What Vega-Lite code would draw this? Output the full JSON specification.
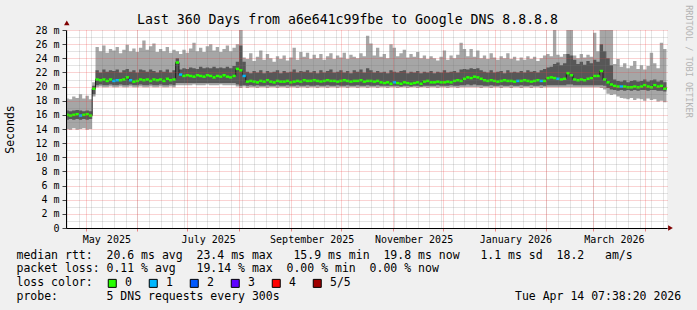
{
"$schema": "https://vega.github.io/schema/vega-lite/v6.json",
"width": 601,
"height": 198,
"autosize": {"type": "none"},
"padding": {"left": 66, "top": 30, "right": 30, "bottom": 82},
"background": "#f0f0f0",
"view": {"fill": "#ffffff", "stroke": null},
"config": {
  "font": "DejaVu Sans Mono",
  "axis": {"labelFont": "DejaVu Sans Mono", "titleFont": "DejaVu Sans Mono", "labelColor": "#000000", "titleColor": "#000000", "titleFontWeight": "normal"}
},
"title": {"text": "Last 360 Days from a6e641c99fbe to Google DNS 8.8.8.8", "font": "DejaVu Sans Mono", "fontSize": 13.2, "fontWeight": "normal", "color": "#000000", "anchor": "middle", "frame": "group", "dx": -19, "dy": 25, "offset": 3},
"data": {"values": [
{"t":"2025-04-19","lo":14.0,"hi":18.3,"dl":15.3,"dh":16.6,"m":16.0,"c":0},
{"t":"2025-04-21","lo":13.9,"hi":18.2,"dl":15.4,"dh":16.5,"m":15.9,"c":0},
{"t":"2025-04-23","lo":14.1,"hi":18.6,"dl":15.3,"dh":16.6,"m":16.0,"c":0},
{"t":"2025-04-25","lo":13.9,"hi":18.4,"dl":15.4,"dh":16.7,"m":16.1,"c":0},
{"t":"2025-04-27","lo":14.0,"hi":18.9,"dl":15.3,"dh":16.6,"m":15.9,"c":1},
{"t":"2025-04-29","lo":14.1,"hi":18.3,"dl":15.4,"dh":16.5,"m":16.0,"c":0},
{"t":"2025-05-01","lo":13.9,"hi":18.7,"dl":15.3,"dh":16.6,"m":16.1,"c":0},
{"t":"2025-05-03","lo":14.0,"hi":18.2,"dl":15.4,"dh":16.5,"m":15.9,"c":0},
{"t":"2025-05-05","lo":18.6,"hi":20.6,"dl":18.9,"dh":20.1,"m":19.7,"c":0},
{"t":"2025-05-07","lo":19.9,"hi":25.6,"dl":20.2,"dh":22.3,"m":21.0,"c":0},
{"t":"2025-05-09","lo":20.0,"hi":25.0,"dl":20.3,"dh":22.0,"m":20.9,"c":0},
{"t":"2025-05-11","lo":19.9,"hi":25.8,"dl":20.2,"dh":22.4,"m":21.0,"c":0},
{"t":"2025-05-13","lo":19.9,"hi":24.8,"dl":20.2,"dh":22.1,"m":20.8,"c":0},
{"t":"2025-05-15","lo":20.0,"hi":25.3,"dl":20.3,"dh":22.3,"m":21.0,"c":0},
{"t":"2025-05-17","lo":19.9,"hi":25.1,"dl":20.2,"dh":22.2,"m":20.8,"c":1},
{"t":"2025-05-19","lo":19.9,"hi":25.6,"dl":20.2,"dh":22.4,"m":20.9,"c":1},
{"t":"2025-05-21","lo":20.0,"hi":24.7,"dl":20.3,"dh":22.0,"m":20.9,"c":0},
{"t":"2025-05-23","lo":19.9,"hi":25.2,"dl":20.2,"dh":22.3,"m":21.0,"c":0},
{"t":"2025-05-25","lo":19.9,"hi":25.9,"dl":20.2,"dh":22.5,"m":21.3,"c":0},
{"t":"2025-05-27","lo":20.0,"hi":25.0,"dl":20.3,"dh":22.1,"m":20.9,"c":1},
{"t":"2025-05-29","lo":19.9,"hi":25.4,"dl":20.2,"dh":22.3,"m":20.7,"c":0},
{"t":"2025-05-31","lo":19.9,"hi":24.9,"dl":20.2,"dh":22.0,"m":20.8,"c":0},
{"t":"2025-06-02","lo":20.0,"hi":25.5,"dl":20.3,"dh":22.4,"m":21.0,"c":0},
{"t":"2025-06-04","lo":19.9,"hi":26.5,"dl":20.2,"dh":22.3,"m":20.9,"c":0},
{"t":"2025-06-06","lo":19.9,"hi":25.2,"dl":20.2,"dh":22.1,"m":21.0,"c":0},
{"t":"2025-06-08","lo":20.0,"hi":25.7,"dl":20.3,"dh":22.4,"m":20.8,"c":0},
{"t":"2025-06-10","lo":19.9,"hi":26.1,"dl":20.2,"dh":22.2,"m":21.0,"c":0},
{"t":"2025-06-12","lo":19.9,"hi":24.9,"dl":20.2,"dh":22.0,"m":20.9,"c":0},
{"t":"2025-06-14","lo":20.0,"hi":25.3,"dl":20.3,"dh":22.3,"m":21.0,"c":0},
{"t":"2025-06-16","lo":19.9,"hi":25.0,"dl":20.2,"dh":22.1,"m":20.8,"c":0},
{"t":"2025-06-18","lo":19.9,"hi":25.6,"dl":20.2,"dh":22.4,"m":21.1,"c":0},
{"t":"2025-06-20","lo":20.0,"hi":24.8,"dl":20.3,"dh":22.0,"m":20.9,"c":0},
{"t":"2025-06-22","lo":19.9,"hi":25.2,"dl":20.2,"dh":22.3,"m":21.0,"c":0},
{"t":"2025-06-24","lo":20.2,"hi":25.0,"dl":20.5,"dh":24.0,"m":23.4,"c":0},
{"t":"2025-06-26","lo":20.2,"hi":24.6,"dl":20.5,"dh":22.4,"m":21.7,"c":1},
{"t":"2025-06-28","lo":20.2,"hi":25.2,"dl":20.5,"dh":22.6,"m":21.5,"c":0},
{"t":"2025-06-30","lo":20.2,"hi":24.8,"dl":20.5,"dh":22.5,"m":21.6,"c":0},
{"t":"2025-07-02","lo":20.2,"hi":25.4,"dl":20.5,"dh":22.7,"m":21.5,"c":0},
{"t":"2025-07-04","lo":20.3,"hi":26.2,"dl":20.5,"dh":22.6,"m":21.4,"c":0},
{"t":"2025-07-06","lo":20.2,"hi":25.0,"dl":20.5,"dh":22.5,"m":21.6,"c":0},
{"t":"2025-07-08","lo":20.2,"hi":25.5,"dl":20.5,"dh":22.8,"m":21.5,"c":0},
{"t":"2025-07-10","lo":20.2,"hi":24.9,"dl":20.5,"dh":22.6,"m":21.4,"c":0},
{"t":"2025-07-12","lo":20.3,"hi":25.7,"dl":20.5,"dh":22.7,"m":21.6,"c":0},
{"t":"2025-07-14","lo":20.2,"hi":26.0,"dl":20.5,"dh":22.6,"m":21.5,"c":0},
{"t":"2025-07-16","lo":20.2,"hi":25.1,"dl":20.5,"dh":22.8,"m":21.3,"c":0},
{"t":"2025-07-18","lo":20.2,"hi":25.6,"dl":20.5,"dh":22.6,"m":21.5,"c":0},
{"t":"2025-07-20","lo":20.3,"hi":24.9,"dl":20.5,"dh":22.7,"m":21.4,"c":0},
{"t":"2025-07-22","lo":20.2,"hi":25.3,"dl":20.5,"dh":22.6,"m":21.6,"c":0},
{"t":"2025-07-24","lo":20.2,"hi":25.8,"dl":20.5,"dh":22.8,"m":21.4,"c":0},
{"t":"2025-07-26","lo":20.2,"hi":25.0,"dl":20.5,"dh":22.6,"m":21.3,"c":0},
{"t":"2025-07-28","lo":20.2,"hi":25.5,"dl":20.5,"dh":22.9,"m":21.5,"c":0},
{"t":"2025-07-30","lo":20.0,"hi":26.0,"dl":20.3,"dh":23.5,"m":22.5,"c":0},
{"t":"2025-08-01","lo":19.8,"hi":29.0,"dl":20.1,"dh":25.8,"m":22.3,"c":0},
{"t":"2025-08-03","lo":20.0,"hi":24.1,"dl":20.2,"dh":23.5,"m":21.5,"c":1},
{"t":"2025-08-05","lo":19.8,"hi":23.9,"dl":20.1,"dh":22.1,"m":20.7,"c":0},
{"t":"2025-08-07","lo":19.9,"hi":24.7,"dl":20.2,"dh":21.9,"m":20.8,"c":0},
{"t":"2025-08-09","lo":19.9,"hi":23.6,"dl":20.1,"dh":22.2,"m":20.7,"c":0},
{"t":"2025-08-11","lo":19.8,"hi":24.2,"dl":20.2,"dh":22.0,"m":20.6,"c":0},
{"t":"2025-08-13","lo":19.9,"hi":25.1,"dl":20.1,"dh":22.3,"m":20.8,"c":0},
{"t":"2025-08-15","lo":19.9,"hi":23.8,"dl":20.1,"dh":21.9,"m":20.7,"c":0},
{"t":"2025-08-17","lo":19.8,"hi":24.6,"dl":20.2,"dh":22.2,"m":20.9,"c":0},
{"t":"2025-08-19","lo":19.9,"hi":24.0,"dl":20.1,"dh":22.0,"m":20.7,"c":0},
{"t":"2025-08-21","lo":19.9,"hi":23.5,"dl":20.1,"dh":22.1,"m":20.6,"c":0},
{"t":"2025-08-23","lo":19.8,"hi":24.3,"dl":20.2,"dh":22.3,"m":20.8,"c":0},
{"t":"2025-08-25","lo":19.9,"hi":23.9,"dl":20.1,"dh":21.9,"m":20.7,"c":0},
{"t":"2025-08-27","lo":19.9,"hi":24.4,"dl":20.1,"dh":22.2,"m":20.7,"c":0},
{"t":"2025-08-29","lo":19.8,"hi":23.7,"dl":20.2,"dh":22.0,"m":20.8,"c":0},
{"t":"2025-08-31","lo":19.9,"hi":24.1,"dl":20.1,"dh":22.1,"m":20.6,"c":0},
{"t":"2025-09-02","lo":19.9,"hi":25.5,"dl":20.1,"dh":22.4,"m":20.7,"c":0},
{"t":"2025-09-04","lo":19.8,"hi":23.8,"dl":20.2,"dh":22.0,"m":20.8,"c":0},
{"t":"2025-09-06","lo":19.9,"hi":24.9,"dl":20.1,"dh":22.2,"m":20.7,"c":0},
{"t":"2025-09-08","lo":19.9,"hi":24.2,"dl":20.1,"dh":22.1,"m":20.9,"c":0},
{"t":"2025-09-10","lo":19.8,"hi":24.8,"dl":20.2,"dh":22.3,"m":20.8,"c":0},
{"t":"2025-09-12","lo":19.9,"hi":23.9,"dl":20.1,"dh":22.0,"m":20.8,"c":0},
{"t":"2025-09-14","lo":19.9,"hi":24.5,"dl":20.1,"dh":22.2,"m":20.9,"c":0},
{"t":"2025-09-16","lo":19.8,"hi":24.0,"dl":20.2,"dh":21.9,"m":20.8,"c":0},
{"t":"2025-09-18","lo":19.9,"hi":24.6,"dl":20.1,"dh":22.3,"m":20.7,"c":0},
{"t":"2025-09-20","lo":19.9,"hi":23.8,"dl":20.1,"dh":22.0,"m":20.8,"c":0},
{"t":"2025-09-22","lo":19.8,"hi":24.3,"dl":20.2,"dh":22.2,"m":20.9,"c":0},
{"t":"2025-09-24","lo":19.9,"hi":24.7,"dl":20.1,"dh":22.4,"m":20.8,"c":0},
{"t":"2025-09-26","lo":19.9,"hi":23.9,"dl":20.1,"dh":22.0,"m":20.8,"c":0},
{"t":"2025-09-28","lo":19.8,"hi":24.4,"dl":20.2,"dh":22.1,"m":20.7,"c":0},
{"t":"2025-09-30","lo":19.9,"hi":24.1,"dl":20.1,"dh":22.3,"m":20.8,"c":0},
{"t":"2025-10-02","lo":19.9,"hi":24.8,"dl":20.1,"dh":22.0,"m":20.9,"c":0},
{"t":"2025-10-04","lo":19.8,"hi":23.9,"dl":20.2,"dh":22.2,"m":20.8,"c":0},
{"t":"2025-10-06","lo":19.9,"hi":24.5,"dl":20.1,"dh":21.9,"m":20.7,"c":0},
{"t":"2025-10-08","lo":19.9,"hi":24.2,"dl":20.1,"dh":22.3,"m":20.8,"c":0},
{"t":"2025-10-10","lo":19.8,"hi":24.0,"dl":20.2,"dh":22.1,"m":20.8,"c":0},
{"t":"2025-10-12","lo":19.9,"hi":24.7,"dl":20.1,"dh":22.4,"m":20.9,"c":0},
{"t":"2025-10-14","lo":19.9,"hi":24.3,"dl":20.1,"dh":22.0,"m":20.7,"c":0},
{"t":"2025-10-16","lo":19.8,"hi":27.2,"dl":20.2,"dh":22.6,"m":20.8,"c":0},
{"t":"2025-10-18","lo":19.9,"hi":26.1,"dl":20.1,"dh":22.3,"m":20.8,"c":0},
{"t":"2025-10-20","lo":19.9,"hi":24.4,"dl":20.1,"dh":22.0,"m":20.7,"c":0},
{"t":"2025-10-22","lo":19.8,"hi":25.5,"dl":20.2,"dh":22.2,"m":20.8,"c":0},
{"t":"2025-10-24","lo":19.9,"hi":24.2,"dl":20.1,"dh":22.0,"m":20.6,"c":0},
{"t":"2025-10-26","lo":19.9,"hi":24.6,"dl":20.1,"dh":22.1,"m":20.5,"c":0},
{"t":"2025-10-28","lo":19.8,"hi":24.0,"dl":20.1,"dh":21.9,"m":20.6,"c":0},
{"t":"2025-10-30","lo":19.9,"hi":26.0,"dl":20.1,"dh":22.3,"m":20.4,"c":0},
{"t":"2025-11-01","lo":19.9,"hi":25.5,"dl":20.1,"dh":22.1,"m":20.6,"c":1},
{"t":"2025-11-03","lo":19.8,"hi":24.3,"dl":20.1,"dh":22.0,"m":20.5,"c":0},
{"t":"2025-11-05","lo":19.9,"hi":24.7,"dl":20.0,"dh":22.2,"m":20.4,"c":0},
{"t":"2025-11-07","lo":19.9,"hi":25.2,"dl":20.1,"dh":22.3,"m":20.6,"c":0},
{"t":"2025-11-09","lo":19.8,"hi":24.1,"dl":20.1,"dh":21.9,"m":20.5,"c":0},
{"t":"2025-11-11","lo":19.9,"hi":24.6,"dl":20.0,"dh":22.1,"m":20.4,"c":0},
{"t":"2025-11-13","lo":19.9,"hi":24.2,"dl":20.1,"dh":22.0,"m":20.5,"c":0},
{"t":"2025-11-15","lo":19.8,"hi":24.9,"dl":20.1,"dh":22.2,"m":20.6,"c":0},
{"t":"2025-11-17","lo":19.9,"hi":24.0,"dl":20.0,"dh":21.9,"m":20.4,"c":0},
{"t":"2025-11-19","lo":19.9,"hi":24.4,"dl":20.1,"dh":22.1,"m":20.7,"c":0},
{"t":"2025-11-21","lo":19.8,"hi":23.9,"dl":20.1,"dh":22.0,"m":20.8,"c":0},
{"t":"2025-11-23","lo":19.9,"hi":24.3,"dl":20.1,"dh":22.2,"m":20.6,"c":0},
{"t":"2025-11-25","lo":19.9,"hi":24.0,"dl":20.1,"dh":21.9,"m":20.6,"c":0},
{"t":"2025-11-27","lo":19.8,"hi":23.7,"dl":20.2,"dh":22.1,"m":20.7,"c":0},
{"t":"2025-11-29","lo":19.9,"hi":24.2,"dl":20.1,"dh":22.0,"m":20.6,"c":0},
{"t":"2025-12-01","lo":19.9,"hi":25.1,"dl":20.1,"dh":22.3,"m":20.6,"c":0},
{"t":"2025-12-03","lo":19.8,"hi":23.8,"dl":20.1,"dh":22.0,"m":20.7,"c":0},
{"t":"2025-12-05","lo":19.9,"hi":24.4,"dl":20.2,"dh":22.1,"m":20.6,"c":0},
{"t":"2025-12-07","lo":19.9,"hi":24.0,"dl":20.1,"dh":22.2,"m":20.8,"c":0},
{"t":"2025-12-09","lo":19.8,"hi":24.5,"dl":20.1,"dh":22.0,"m":20.9,"c":0},
{"t":"2025-12-11","lo":19.9,"hi":26.2,"dl":20.2,"dh":22.4,"m":20.8,"c":0},
{"t":"2025-12-13","lo":19.9,"hi":25.3,"dl":20.2,"dh":22.5,"m":21.1,"c":0},
{"t":"2025-12-15","lo":19.9,"hi":24.3,"dl":20.3,"dh":22.4,"m":21.3,"c":0},
{"t":"2025-12-17","lo":19.9,"hi":25.3,"dl":20.2,"dh":22.6,"m":21.2,"c":0},
{"t":"2025-12-19","lo":19.9,"hi":24.2,"dl":20.3,"dh":22.5,"m":21.4,"c":0},
{"t":"2025-12-21","lo":19.9,"hi":25.1,"dl":20.2,"dh":22.6,"m":21.3,"c":0},
{"t":"2025-12-23","lo":19.8,"hi":24.0,"dl":20.2,"dh":22.3,"m":21.1,"c":0},
{"t":"2025-12-25","lo":19.9,"hi":24.4,"dl":20.1,"dh":22.1,"m":20.9,"c":0},
{"t":"2025-12-27","lo":19.9,"hi":23.9,"dl":20.1,"dh":22.0,"m":20.8,"c":0},
{"t":"2025-12-29","lo":19.8,"hi":24.7,"dl":20.2,"dh":22.3,"m":20.9,"c":0},
{"t":"2025-12-31","lo":19.9,"hi":24.1,"dl":20.1,"dh":22.0,"m":20.8,"c":0},
{"t":"2026-01-02","lo":19.9,"hi":23.8,"dl":20.1,"dh":22.1,"m":20.7,"c":0},
{"t":"2026-01-04","lo":19.8,"hi":24.3,"dl":20.2,"dh":22.2,"m":20.8,"c":0},
{"t":"2026-01-06","lo":19.9,"hi":24.0,"dl":20.1,"dh":21.9,"m":20.9,"c":0},
{"t":"2026-01-08","lo":19.9,"hi":24.7,"dl":20.1,"dh":22.3,"m":20.8,"c":0},
{"t":"2026-01-10","lo":19.8,"hi":23.9,"dl":20.2,"dh":22.0,"m":20.8,"c":0},
{"t":"2026-01-12","lo":19.9,"hi":24.2,"dl":20.1,"dh":22.1,"m":20.7,"c":0},
{"t":"2026-01-14","lo":19.9,"hi":23.7,"dl":20.1,"dh":22.0,"m":20.8,"c":1},
{"t":"2026-01-16","lo":19.8,"hi":24.1,"dl":20.2,"dh":22.2,"m":20.8,"c":0},
{"t":"2026-01-18","lo":19.9,"hi":23.8,"dl":20.1,"dh":22.0,"m":20.9,"c":0},
{"t":"2026-01-20","lo":19.9,"hi":24.3,"dl":20.1,"dh":22.3,"m":20.8,"c":0},
{"t":"2026-01-22","lo":19.8,"hi":23.9,"dl":20.2,"dh":22.1,"m":20.7,"c":0},
{"t":"2026-01-24","lo":19.9,"hi":24.2,"dl":20.1,"dh":22.2,"m":20.8,"c":0},
{"t":"2026-01-26","lo":19.9,"hi":23.6,"dl":20.1,"dh":22.0,"m":20.9,"c":0},
{"t":"2026-01-28","lo":19.8,"hi":24.0,"dl":20.2,"dh":22.3,"m":20.8,"c":1},
{"t":"2026-01-30","lo":19.9,"hi":24.4,"dl":20.1,"dh":22.5,"m":20.8,"c":0},
{"t":"2026-02-01","lo":19.9,"hi":24.6,"dl":20.2,"dh":22.7,"m":21.2,"c":0},
{"t":"2026-02-03","lo":19.9,"hi":24.3,"dl":20.2,"dh":22.8,"m":21.3,"c":0},
{"t":"2026-02-05","lo":19.9,"hi":29.0,"dl":20.2,"dh":23.2,"m":21.2,"c":0},
{"t":"2026-02-07","lo":19.9,"hi":24.5,"dl":20.2,"dh":23.4,"m":21.1,"c":1},
{"t":"2026-02-09","lo":19.9,"hi":24.2,"dl":20.2,"dh":23.0,"m":21.0,"c":0},
{"t":"2026-02-11","lo":19.9,"hi":24.6,"dl":20.2,"dh":23.3,"m":21.1,"c":0},
{"t":"2026-02-13","lo":19.9,"hi":29.0,"dl":20.3,"dh":24.6,"m":21.9,"c":0},
{"t":"2026-02-15","lo":19.9,"hi":29.0,"dl":20.3,"dh":24.4,"m":21.6,"c":0},
{"t":"2026-02-17","lo":19.9,"hi":24.4,"dl":20.2,"dh":23.8,"m":21.0,"c":0},
{"t":"2026-02-19","lo":19.9,"hi":24.0,"dl":20.2,"dh":23.2,"m":20.9,"c":0},
{"t":"2026-02-21","lo":19.9,"hi":24.6,"dl":20.2,"dh":23.5,"m":21.0,"c":0},
{"t":"2026-02-23","lo":19.9,"hi":24.1,"dl":20.2,"dh":23.1,"m":20.9,"c":0},
{"t":"2026-02-25","lo":19.9,"hi":24.5,"dl":20.2,"dh":23.6,"m":21.1,"c":0},
{"t":"2026-02-27","lo":19.9,"hi":24.2,"dl":20.2,"dh":23.3,"m":21.2,"c":0},
{"t":"2026-03-01","lo":19.9,"hi":27.6,"dl":20.2,"dh":23.8,"m":21.5,"c":0},
{"t":"2026-03-03","lo":19.9,"hi":25.0,"dl":20.2,"dh":23.5,"m":21.5,"c":0},
{"t":"2026-03-05","lo":19.8,"hi":29.0,"dl":20.2,"dh":26.0,"m":22.2,"c":0},
{"t":"2026-03-07","lo":19.6,"hi":29.0,"dl":20.1,"dh":25.0,"m":21.0,"c":0},
{"t":"2026-03-09","lo":19.0,"hi":29.0,"dl":19.8,"dh":24.0,"m":20.6,"c":0},
{"t":"2026-03-11","lo":18.8,"hi":29.0,"dl":19.6,"dh":23.0,"m":20.3,"c":0},
{"t":"2026-03-13","lo":18.9,"hi":23.2,"dl":19.5,"dh":21.0,"m":20.1,"c":0},
{"t":"2026-03-15","lo":18.6,"hi":23.9,"dl":19.4,"dh":20.8,"m":20.0,"c":0},
{"t":"2026-03-17","lo":18.4,"hi":22.8,"dl":19.5,"dh":20.7,"m":20.0,"c":1},
{"t":"2026-03-19","lo":18.3,"hi":23.3,"dl":19.4,"dh":20.9,"m":20.0,"c":0},
{"t":"2026-03-21","lo":18.2,"hi":22.6,"dl":19.5,"dh":20.6,"m":19.9,"c":0},
{"t":"2026-03-23","lo":18.4,"hi":22.9,"dl":19.4,"dh":20.8,"m":19.9,"c":0},
{"t":"2026-03-25","lo":18.1,"hi":23.6,"dl":19.5,"dh":20.9,"m":20.0,"c":0},
{"t":"2026-03-27","lo":18.3,"hi":22.5,"dl":19.4,"dh":20.7,"m":19.9,"c":0},
{"t":"2026-03-29","lo":18.2,"hi":23.0,"dl":19.5,"dh":20.8,"m":20.0,"c":0},
{"t":"2026-03-31","lo":18.0,"hi":22.4,"dl":19.5,"dh":21.0,"m":20.2,"c":0},
{"t":"2026-04-02","lo":18.3,"hi":22.9,"dl":19.4,"dh":20.7,"m":20.0,"c":0},
{"t":"2026-04-04","lo":18.1,"hi":24.8,"dl":19.5,"dh":20.9,"m":19.9,"c":0},
{"t":"2026-04-06","lo":18.2,"hi":23.3,"dl":19.5,"dh":21.0,"m":20.2,"c":0},
{"t":"2026-04-08","lo":17.9,"hi":22.6,"dl":19.4,"dh":20.7,"m":20.0,"c":0},
{"t":"2026-04-10","lo":18.0,"hi":26.2,"dl":19.4,"dh":20.9,"m":20.1,"c":0},
{"t":"2026-04-12","lo":17.8,"hi":25.3,"dl":19.3,"dh":20.6,"m":19.7,"c":0},
{"t":"2026-04-14","lo":17.8,"hi":25.3,"dl":19.3,"dh":20.6,"m":19.8,"c":0}
]},
"resolve": {"axis": {"x": "independent", "y": "independent"}},
"layer": [
{
  "mark": {"type": "area", "interpolate": "step-after", "color": "#a6a6a6", "opacity": 1, "clip": true},
  "encoding": {
    "x": {"field": "t", "type": "temporal",
      "scale": {"domain": [{"year":2025,"month":4,"date":19,"hours":7,"minutes":38,"seconds":20},{"year":2026,"month":4,"date":14,"hours":7,"minutes":38,"seconds":20}], "nice": false},
      "axis": {"orient": "bottom", "tickCount": {"interval": "week", "step": 1}, "grid": true, "gridColor": "rgba(120,120,120,0.4)", "gridDash": [1, 1], "labels": false, "ticks": false, "domain": false, "title": null, "zindex": 1}},
    "y": {"field": "lo", "type": "quantitative",
      "scale": {"domain": [0, 28], "nice": false, "zero": false},
      "axis": {"orient": "left", "values": [0,1,2,3,4,5,6,7,8,9,10,11,12,13,14,15,16,17,18,19,20,21,22,23,24,25,26,27,28],
        "labelExpr": "datum.value % 2 ? '' : (datum.value == 0 ? '0\u00a0\u00a0' : datum.value + '\u00a0m')",
        "labelFontSize": 10, "labelPadding": 3, "labelOverlap": false, "labelFlush": false,
        "tickSize": 4, "tickColor": {"condition": {"test": "datum.value % 2 == 0", "value": "#444444"}, "value": "rgba(0,0,0,0)"},
        "grid": true, "gridColor": {"condition": {"test": "datum.value % 2 == 0", "value": "rgba(230,60,60,0.45)"}, "value": "rgba(120,120,120,0.4)"}, "gridDash": [1, 1],
        "domain": true, "domainColor": "#000000",
        "title": "Seconds", "titleFontSize": 11.5, "titleX": -56, "titleY": 99, "titleAngle": -90, "titleBaseline": "middle", "titleAlign": "center", "zindex": 1}},
    "y2": {"field": "hi"}
  }
},
{
  "mark": {"type": "area", "interpolate": "step-after", "color": "#575757", "opacity": 1, "clip": true},
  "encoding": {
    "x": {"field": "t", "type": "temporal",
      "scale": {"domain": [{"year":2025,"month":4,"date":19,"hours":7,"minutes":38,"seconds":20},{"year":2026,"month":4,"date":14,"hours":7,"minutes":38,"seconds":20}], "nice": false},
      "axis": {"orient": "bottom", "tickCount": {"interval": "month", "step": 1}, "grid": true, "gridColor": "rgba(230,60,60,0.45)", "gridDash": [1, 1], "labels": false, "ticks": true, "tickColor": "rgba(230,60,60,0.6)", "tickSize": 3, "domain": false, "title": null, "zindex": 1}},
    "y": {"field": "dl", "type": "quantitative",
      "scale": {"domain": [0, 28], "nice": false, "zero": false},
      "axis": {"orient": "right", "labels": false, "ticks": false, "domain": false, "grid": false,
        "title": "RRDTOOL / TOBI OETIKER", "titleFontSize": 8.5, "titleColor": "#b4b4b4", "titleAngle": 90, "titleX": 21, "titleY": 31, "titleBaseline": "middle", "titleAlign": "center"}},
    "y2": {"field": "dh"}
  }
},
{
  "mark": {"type": "line", "interpolate": "step-after", "color": "#1e1e1e", "strokeWidth": 1, "clip": true},
  "encoding": {
    "x": {"field": "t", "type": "temporal",
      "scale": {"domain": [{"year":2025,"month":4,"date":19,"hours":7,"minutes":38,"seconds":20},{"year":2026,"month":4,"date":14,"hours":7,"minutes":38,"seconds":20}], "nice": false},
      "axis": {"orient": "bottom",
        "values": [{"year":2025,"month":5,"date":13,"hours":12},{"year":2025,"month":7,"date":13,"hours":12},{"year":2025,"month":9,"date":13,"hours":12},{"year":2025,"month":11,"date":13,"hours":12},{"year":2026,"month":1,"date":13,"hours":12},{"year":2026,"month":3,"date":13,"hours":12}],
        "format": "%B %Y", "labelFontSize": 10, "labelPadding": 6, "labelOverlap": false, "labelFlush": false,
        "ticks": false, "grid": false, "domain": true, "domainColor": "#000000",
        "title": ["median rtt:\u00a0 20.6 ms avg\u00a0 23.4 ms max\u00a0\u00a0 15.9 ms min\u00a0 19.8 ms now\u00a0\u00a0 1.1 ms sd\u00a0 18.2\u00a0\u00a0 am/s",
                  "packet loss: 0.11 % avg\u00a0\u00a0 19.14 % max\u00a0 0.00 % min\u00a0 0.00 % now",
                  "loss color:",
                  "probe:\u00a0\u00a0\u00a0\u00a0\u00a0\u00a0 5 DNS requests every 300s\u00a0\u00a0\u00a0\u00a0\u00a0\u00a0\u00a0\u00a0\u00a0\u00a0\u00a0\u00a0\u00a0\u00a0\u00a0\u00a0\u00a0\u00a0\u00a0\u00a0\u00a0\u00a0\u00a0\u00a0\u00a0\u00a0\u00a0\u00a0\u00a0\u00a0\u00a0\u00a0\u00a0 Tue Apr 14 07:38:20 2026"],
        "titleFontSize": 11.5, "titleAlign": "left", "titleAnchor": "start", "titleAngle": 0, "titleBaseline": "alphabetic",
        "titleX": -50, "titleY": 30, "titleLineHeight": 13.9, "zindex": 1}},
    "y": {"field": "m", "type": "quantitative", "scale": {"domain": [0, 28], "nice": false, "zero": false}, "axis": null}
  }
},
{
  "mark": {"type": "tick", "orient": "horizontal", "thickness": 2.5, "size": 3.4, "xOffset": 1.67, "opacity": 1, "clip": true},
  "encoding": {
    "x": {"field": "t", "type": "temporal",
      "scale": {"domain": [{"year":2025,"month":4,"date":19,"hours":7,"minutes":38,"seconds":20},{"year":2026,"month":4,"date":14,"hours":7,"minutes":38,"seconds":20}], "nice": false},
      "axis": null},
    "y": {"field": "m", "type": "quantitative", "scale": {"domain": [0, 28], "nice": false, "zero": false}, "axis": null},
    "color": {"field": "c", "type": "nominal",
      "scale": {"domain": [0, 1, 2, 3, 4, 5], "range": ["#26ff00", "#00b8ff", "#0059ff", "#5e00ff", "#ff0000", "#a00000"]},
      "legend": {"orient": "none", "legendX": 40.5, "legendY": 247.5, "direction": "horizontal", "columns": 6, "gridAlign": "all", "columnPadding": 0, "padding": 0, "title": null,
        "symbolType": "square", "symbolSize": 64, "symbolStrokeWidth": 1, "symbolStrokeColor": "#000000", "symbolOpacity": 1,
        "labelFont": "DejaVu Sans Mono", "labelFontSize": 11.5, "labelColor": "#000000", "labelOffset": 7,
        "labelExpr": "datum.label == '5' ? '5/5' : datum.label",
        "encode": {"symbols": {"update": {"stroke": {"value": "#000000"}, "strokeWidth": {"value": 1}}}}}}
  }
},
{
  "data": {"values": [{"k": 1}]},
  "mark": {"type": "point", "shape": "triangle-up", "filled": true, "color": "#7f0000", "size": 30, "opacity": 1, "clip": false},
  "encoding": {
    "x": {"datum": {"year":2025,"month":4,"date":19,"hours":19}, "type": "temporal",
      "scale": {"domain": [{"year":2025,"month":4,"date":19,"hours":7,"minutes":38,"seconds":20},{"year":2026,"month":4,"date":14,"hours":7,"minutes":38,"seconds":20}], "nice": false}, "axis": null},
    "y": {"datum": 29.0, "type": "quantitative", "scale": {"domain": [0, 28], "nice": false, "zero": false}, "axis": null}
  }
},
{
  "data": {"values": [{"k": 1}]},
  "mark": {"type": "point", "shape": "triangle-right", "filled": true, "color": "#7f0000", "size": 30, "opacity": 1, "clip": false},
  "encoding": {
    "x": {"datum": {"year":2026,"month":4,"date":16,"hours":10}, "type": "temporal",
      "scale": {"domain": [{"year":2025,"month":4,"date":19,"hours":7,"minutes":38,"seconds":20},{"year":2026,"month":4,"date":14,"hours":7,"minutes":38,"seconds":20}], "nice": false}, "axis": null},
    "y": {"datum": 0, "type": "quantitative", "scale": {"domain": [0, 28], "nice": false, "zero": false}, "axis": null}
  }
}
]
}
